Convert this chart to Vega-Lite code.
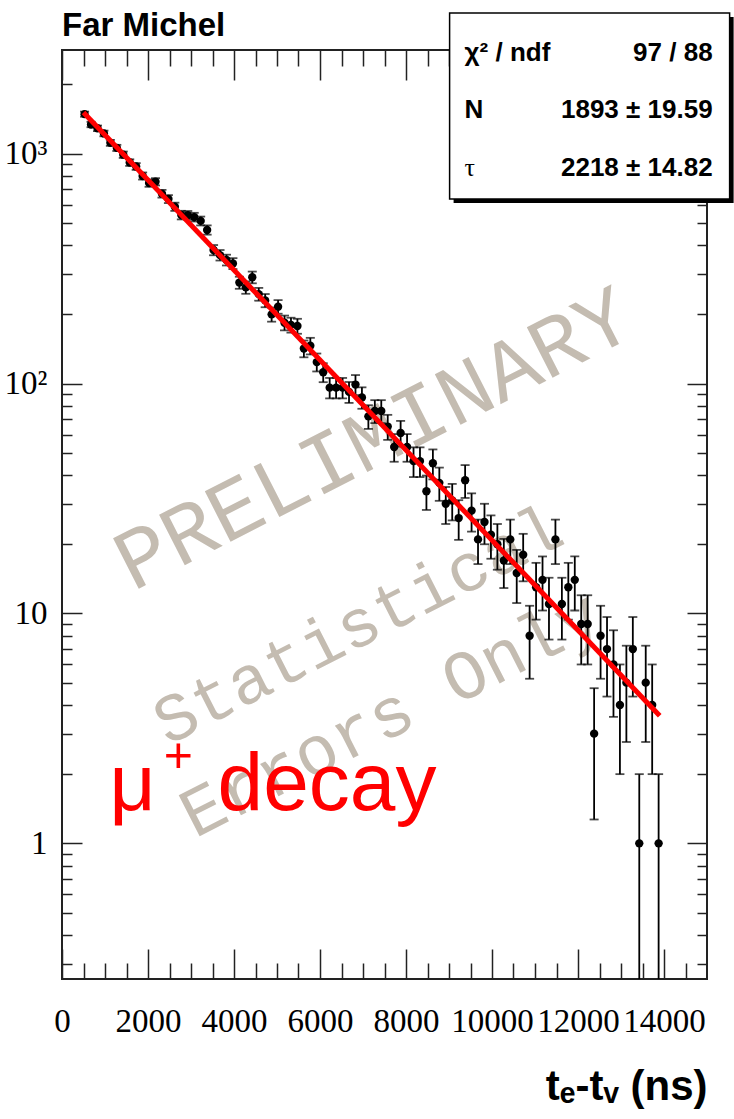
{
  "$schema": "https://vega.github.io/schema/vega-lite/v6.json",
  "width": 645,
  "height": 929,
  "autosize": {"type": "none"},
  "padding": {"left": 62, "top": 50, "right": 27, "bottom": 140},
  "background": "white",
  "config": {
    "view": {"stroke": "#222222", "strokeWidth": 2},
    "axis": {"grid": false, "domain": false}
  },
  "datasets": {
    "bins": [
      {"t":525,"n":1486,"lo":1447.5,"hi":1524.5},
      {"t":675,"n":1340,"lo":1303.4,"hi":1376.6},
      {"t":825,"n":1290,"lo":1254.1,"hi":1325.9},
      {"t":975,"n":1225,"lo":1190,"hi":1260},
      {"t":1125,"n":1115,"lo":1081.6,"hi":1148.4},
      {"t":1275,"n":1060,"lo":1027.4,"hi":1092.6},
      {"t":1425,"n":990,"lo":958.5,"hi":1021.5},
      {"t":1575,"n":915,"lo":884.8,"hi":945.2},
      {"t":1725,"n":880,"lo":850.3,"hi":909.7},
      {"t":1875,"n":800,"lo":771.7,"hi":828.3},
      {"t":2025,"n":745,"lo":717.7,"hi":772.3},
      {"t":2175,"n":755,"lo":727.5,"hi":782.5},
      {"t":2325,"n":670,"lo":644.1,"hi":695.9},
      {"t":2475,"n":635,"lo":609.8,"hi":660.2},
      {"t":2625,"n":588,"lo":563.8,"hi":612.2},
      {"t":2775,"n":541,"lo":517.7,"hi":564.3},
      {"t":2925,"n":540,"lo":516.8,"hi":563.2},
      {"t":3075,"n":530,"lo":507,"hi":553},
      {"t":3225,"n":510,"lo":487.4,"hi":532.6},
      {"t":3375,"n":466,"lo":444.4,"hi":487.6},
      {"t":3525,"n":381,"lo":361.5,"hi":400.5},
      {"t":3675,"n":362,"lo":343,"hi":381},
      {"t":3825,"n":345,"lo":326.4,"hi":363.6},
      {"t":3975,"n":333,"lo":314.8,"hi":351.2},
      {"t":4125,"n":275,"lo":258.4,"hi":291.6},
      {"t":4275,"n":262,"lo":245.8,"hi":278.2},
      {"t":4425,"n":290,"lo":273,"hi":307},
      {"t":4575,"n":245,"lo":229.3,"hi":260.7},
      {"t":4725,"n":230,"lo":214.8,"hi":245.2},
      {"t":4875,"n":200,"lo":185.9,"hi":214.1},
      {"t":5025,"n":216,"lo":201.3,"hi":230.7},
      {"t":5175,"n":184,"lo":170.4,"hi":197.6},
      {"t":5325,"n":180,"lo":166.6,"hi":193.4},
      {"t":5475,"n":178,"lo":164.7,"hi":191.3},
      {"t":5625,"n":142,"lo":130.1,"hi":153.9},
      {"t":5775,"n":146,"lo":133.9,"hi":158.1},
      {"t":5925,"n":124,"lo":112.9,"hi":135.1},
      {"t":6075,"n":112,"lo":101.4,"hi":122.6},
      {"t":6225,"n":96,"lo":86.2,"hi":105.8},
      {"t":6375,"n":96,"lo":86.2,"hi":105.8},
      {"t":6525,"n":96,"lo":86.2,"hi":105.8},
      {"t":6675,"n":92,"lo":82.4,"hi":101.6},
      {"t":6825,"n":99,"lo":89.1,"hi":108.9},
      {"t":6975,"n":87,"lo":77.7,"hi":96.3},
      {"t":7125,"n":72,"lo":63.5,"hi":80.5},
      {"t":7275,"n":76,"lo":67.3,"hi":84.7},
      {"t":7425,"n":76,"lo":67.3,"hi":84.7},
      {"t":7575,"n":65,"lo":56.9,"hi":73.1},
      {"t":7725,"n":53,"lo":45.7,"hi":60.3},
      {"t":7875,"n":61,"lo":53.2,"hi":68.8},
      {"t":8025,"n":53,"lo":45.7,"hi":60.3},
      {"t":8175,"n":46,"lo":39.2,"hi":52.8},
      {"t":8325,"n":46,"lo":39.2,"hi":52.8},
      {"t":8475,"n":34,"lo":28.2,"hi":39.8},
      {"t":8625,"n":45,"lo":38.3,"hi":51.7},
      {"t":8775,"n":37,"lo":30.9,"hi":43.1},
      {"t":8925,"n":30,"lo":24.5,"hi":35.5},
      {"t":9075,"n":31,"lo":25.4,"hi":36.6},
      {"t":9225,"n":26,"lo":20.9,"hi":31.1},
      {"t":9375,"n":38,"lo":31.8,"hi":44.2},
      {"t":9525,"n":28,"lo":22.7,"hi":33.3},
      {"t":9675,"n":21,"lo":16.4,"hi":25.6},
      {"t":9825,"n":25,"lo":20,"hi":30},
      {"t":9975,"n":22,"lo":17.3,"hi":26.7},
      {"t":10125,"n":20,"lo":15.5,"hi":24.5},
      {"t":10275,"n":17,"lo":12.9,"hi":21.1},
      {"t":10425,"n":21,"lo":16.4,"hi":25.6},
      {"t":10575,"n":15,"lo":11.1,"hi":18.9},
      {"t":10725,"n":18,"lo":13.8,"hi":22.2},
      {"t":10875,"n":8,"lo":5.2,"hi":10.8},
      {"t":11025,"n":13,"lo":9.4,"hi":16.6},
      {"t":11175,"n":14,"lo":10.3,"hi":17.7},
      {"t":11325,"n":11,"lo":7.7,"hi":14.3},
      {"t":11475,"n":21,"lo":16.4,"hi":25.6},
      {"t":11625,"n":11,"lo":7.7,"hi":14.3},
      {"t":11775,"n":13,"lo":9.4,"hi":16.6},
      {"t":11925,"n":14,"lo":10.3,"hi":17.7},
      {"t":12075,"n":9,"lo":6,"hi":12},
      {"t":12225,"n":9,"lo":6,"hi":12},
      {"t":12375,"n":3,"lo":1.27,"hi":4.73},
      {"t":12525,"n":8,"lo":5.2,"hi":10.8},
      {"t":12675,"n":7,"lo":4.35,"hi":9.65},
      {"t":12825,"n":6,"lo":3.55,"hi":8.45},
      {"t":12975,"n":4,"lo":2,"hi":6},
      {"t":13125,"n":5,"lo":2.76,"hi":7.24},
      {"t":13275,"n":7,"lo":4.35,"hi":9.65},
      {"t":13425,"n":1,"lo":0.1,"hi":2},
      {"t":13575,"n":5,"lo":2.76,"hi":7.24},
      {"t":13725,"n":4,"lo":2,"hi":6},
      {"t":13875,"n":1,"lo":0.1,"hi":2}
    ],
    "fit": [
      {"t":500,"f":1511},
      {"t":13900,"f":3.59}
    ]
  },
  "resolve": {"axis": {"x": "independent", "y": "independent"}},
  "layer": [
    {
      "data": {"values": [{}]},
      "mark": {"type": "text", "font": "Liberation Mono", "fontSize": 86, "color": "#c4bcb1", "angle": -27, "align": "center", "baseline": "middle"},
      "encoding": {
        "x": {"datum": 7250, "type": "quantitative", "scale": {"type": "linear", "domain": [0, 15000], "nice": false, "zero": false}, "axis": null},
        "y": {"datum": 57, "type": "quantitative", "scale": {"type": "log", "domain": [0.257, 2825], "nice": false}, "axis": null},
        "text": {"value": "PRELIMINARY"}
      }
    },
    {
      "data": {"values": [{}]},
      "mark": {"type": "text", "font": "Liberation Mono", "fontSize": 68, "color": "#c4bcb1", "angle": -27, "align": "center", "baseline": "middle"},
      "encoding": {
        "x": {"datum": 6900, "type": "quantitative", "axis": null},
        "y": {"datum": 8.8, "type": "quantitative", "axis": null},
        "text": {"value": "Statistical"}
      }
    },
    {
      "data": {"values": [{}]},
      "mark": {"type": "text", "font": "Liberation Mono", "fontSize": 70, "color": "#c4bcb1", "angle": -27, "align": "center", "baseline": "middle"},
      "encoding": {
        "x": {"datum": 7650, "type": "quantitative", "axis": null},
        "y": {"datum": 3.61, "type": "quantitative", "axis": null},
        "text": {"value": "Errors Only"}
      }
    },
    {
      "data": {"values": [{}]},
      "mark": {"type": "text", "font": "Liberation Sans", "fontSize": 80, "color": "#ff0000", "align": "left", "baseline": "alphabetic"},
      "encoding": {
        "x": {"datum": 1107, "type": "quantitative", "axis": null},
        "y": {"datum": 1.396, "type": "quantitative", "axis": null},
        "text": {"value": "μ"}
      }
    },
    {
      "data": {"values": [{}]},
      "mark": {"type": "text", "font": "Liberation Sans", "fontSize": 50, "color": "#ff0000", "align": "left", "baseline": "middle"},
      "encoding": {
        "x": {"datum": 2367, "type": "quantitative", "axis": null},
        "y": {"datum": 2.374, "type": "quantitative", "axis": null},
        "text": {"value": "+"}
      }
    },
    {
      "data": {"values": [{}]},
      "mark": {"type": "text", "font": "Liberation Sans", "fontSize": 82, "color": "#ff0000", "align": "left", "baseline": "alphabetic"},
      "encoding": {
        "x": {"datum": 3619, "type": "quantitative", "axis": null},
        "y": {"datum": 1.396, "type": "quantitative", "axis": null},
        "text": {"value": "decay"}
      }
    },
    {
      "data": {"name": "bins"},
      "mark": {"type": "rule", "color": "black", "strokeWidth": 1.8, "clip": true},
      "encoding": {
        "x": {"field": "t", "type": "quantitative",
          "axis": {"orient": "bottom", "values": [0,2000,4000,6000,8000,10000,12000,14000], "format": "d", "ticks": false, "labelFont": "Liberation Serif", "labelFontSize": 33, "labelColor": "black", "labelPadding": 26, "labelFlush": false, "labelOverlap": false, "labelAngle": 0,
            "title": "tₑ-tᵥ (ns)", "titleFont": "Liberation Sans", "titleFontWeight": "bold", "titleFontSize": 42, "titleColor": "black", "titleAnchor": "end", "titleAlign": "right", "titlePadding": 28}},
        "y": {"field": "lo", "type": "quantitative",
          "axis": {"orient": "left", "values": [1,10,100,1000], "ticks": false, "labelFont": "Liberation Serif", "labelFontSize": 33, "labelColor": "black", "labelPadding": 15, "labelFlush": false, "labelOverlap": false, "title": null,
            "labelExpr": "datum.value >= 1000 ? '10³' : datum.value >= 100 ? '10²' : datum.value >= 10 ? '10' : '1'"}},
        "y2": {"field": "hi"}
      }
    },
    {
      "data": {"name": "bins"},
      "mark": {"type": "tick", "orient": "horizontal", "color": "black", "size": 9, "thickness": 1.8, "clip": true},
      "encoding": {
        "x": {"field": "t", "type": "quantitative",
          "axis": {"orient": "bottom", "values": [0,2000,4000,6000,8000,10000,12000,14000], "labels": false, "ticks": true, "tickSize": -30, "tickWidth": 1.5, "tickColor": "#222222", "title": null}},
        "y": {"field": "hi", "type": "quantitative",
          "axis": {"orient": "left", "values": [1,10,100,1000], "labels": false, "ticks": true, "tickSize": -20, "tickWidth": 1.5, "tickColor": "#222222", "title": null}}
      }
    },
    {
      "data": {"name": "bins"},
      "mark": {"type": "tick", "orient": "horizontal", "color": "black", "size": 9, "thickness": 1.8, "clip": true},
      "encoding": {
        "x": {"field": "t", "type": "quantitative",
          "axis": {"orient": "bottom", "values": [500,1000,1500,2500,3000,3500,4500,5000,5500,6500,7000,7500,8500,9000,9500,10500,11000,11500,12500,13000,13500,14500], "labels": false, "ticks": true, "tickSize": -16, "tickWidth": 1.5, "tickColor": "#222222", "title": null}},
        "y": {"field": "lo", "type": "quantitative",
          "axis": {"orient": "left", "values": [0.3,0.4,0.5,0.6,0.7,0.8,0.9,2,3,4,5,6,7,8,9,20,30,40,50,60,70,80,90,200,300,400,500,600,700,800,900,2000], "labels": false, "ticks": true, "tickSize": -10, "tickWidth": 1.5, "tickColor": "#222222", "title": null}}
      }
    },
    {
      "data": {"name": "bins"},
      "mark": {"type": "point", "shape": "circle", "filled": true, "color": "black", "opacity": 1, "size": 70, "clip": true},
      "encoding": {
        "x": {"field": "t", "type": "quantitative",
          "axis": {"orient": "top", "values": [0,2000,4000,6000,8000,10000,12000,14000], "labels": false, "ticks": true, "tickSize": -30, "tickWidth": 1.5, "tickColor": "#222222", "title": null}},
        "y": {"field": "n", "type": "quantitative",
          "axis": {"orient": "right", "values": [1,10,100,1000], "labels": false, "ticks": true, "tickSize": -20, "tickWidth": 1.5, "tickColor": "#222222", "title": null}}
      }
    },
    {
      "data": {"name": "fit"},
      "mark": {"type": "line", "color": "#ff0000", "strokeWidth": 5, "clip": true},
      "encoding": {
        "x": {"field": "t", "type": "quantitative",
          "axis": {"orient": "top", "values": [500,1000,1500,2500,3000,3500,4500,5000,5500,6500,7000,7500,8500,9000,9500,10500,11000,11500,12500,13000,13500,14500], "labels": false, "ticks": true, "tickSize": -16, "tickWidth": 1.5, "tickColor": "#222222", "title": null}},
        "y": {"field": "f", "type": "quantitative",
          "axis": {"orient": "right", "values": [0.3,0.4,0.5,0.6,0.7,0.8,0.9,2,3,4,5,6,7,8,9,20,30,40,50,60,70,80,90,200,300,400,500,600,700,800,900,2000], "labels": false, "ticks": true, "tickSize": -10, "tickWidth": 1.5, "tickColor": "#222222", "title": null}}
      }
    },
    {
      "data": {"values": [{}]},
      "mark": {"type": "text", "font": "Liberation Sans", "fontWeight": "bold", "fontSize": 33, "color": "black", "align": "left", "baseline": "alphabetic"},
      "encoding": {
        "x": {"datum": 0, "type": "quantitative", "axis": null},
        "y": {"datum": 3248, "type": "quantitative", "axis": null},
        "text": {"value": "Far Michel"}
      }
    },
    {
      "data": {"values": [{}]},
      "mark": {"type": "rect", "color": "black", "opacity": 1},
      "encoding": {
        "x": {"datum": 9107, "type": "quantitative", "axis": null},
        "x2": {"datum": 15619},
        "y": {"datum": 3927, "type": "quantitative", "axis": null},
        "y2": {"datum": 609.7}
      }
    },
    {
      "data": {"values": [{}]},
      "mark": {"type": "rect", "fill": "white", "stroke": "black", "strokeWidth": 1.5, "opacity": 1, "fillOpacity": 1},
      "encoding": {
        "x": {"datum": 9014, "type": "quantitative", "axis": null},
        "x2": {"datum": 15526},
        "y": {"datum": 4089, "type": "quantitative", "axis": null},
        "y2": {"datum": 634.7}
      }
    },
    {
      "data": {"values": [{}]},
      "mark": {"type": "text", "font": "Liberation Sans", "fontWeight": "bold", "fontSize": 26, "color": "black", "align": "left", "baseline": "middle"},
      "encoding": {
        "x": {"datum": 9363, "type": "quantitative", "axis": null},
        "y": {"datum": 2740, "type": "quantitative", "axis": null},
        "text": {"value": "χ² / ndf"}
      }
    },
    {
      "data": {"values": [{}]},
      "mark": {"type": "text", "font": "Liberation Sans", "fontWeight": "bold", "fontSize": 26, "color": "black", "align": "left", "baseline": "middle"},
      "encoding": {
        "x": {"datum": 9363, "type": "quantitative", "axis": null},
        "y": {"datum": 1547, "type": "quantitative", "axis": null},
        "text": {"value": "N"}
      }
    },
    {
      "data": {"values": [{}]},
      "mark": {"type": "text", "font": "Liberation Serif", "fontSize": 26, "color": "black", "align": "left", "baseline": "middle"},
      "encoding": {
        "x": {"datum": 9363, "type": "quantitative", "axis": null},
        "y": {"datum": 865.8, "type": "quantitative", "axis": null},
        "text": {"value": "τ"}
      }
    },
    {
      "data": {"values": [{}]},
      "mark": {"type": "text", "font": "Liberation Sans", "fontWeight": "bold", "fontSize": 26, "color": "black", "align": "right", "baseline": "middle"},
      "encoding": {
        "x": {"datum": 15130, "type": "quantitative", "axis": null},
        "y": {"datum": 2740, "type": "quantitative", "axis": null},
        "text": {"value": "97 / 88"}
      }
    },
    {
      "data": {"values": [{}]},
      "mark": {"type": "text", "font": "Liberation Sans", "fontWeight": "bold", "fontSize": 26, "color": "black", "align": "right", "baseline": "middle"},
      "encoding": {
        "x": {"datum": 15130, "type": "quantitative", "axis": null},
        "y": {"datum": 1547, "type": "quantitative", "axis": null},
        "text": {"value": "1893 ± 19.59"}
      }
    },
    {
      "data": {"values": [{}]},
      "mark": {"type": "text", "font": "Liberation Sans", "fontWeight": "bold", "fontSize": 26, "color": "black", "align": "right", "baseline": "middle"},
      "encoding": {
        "x": {"datum": 15130, "type": "quantitative", "axis": null},
        "y": {"datum": 865.8, "type": "quantitative", "axis": null},
        "text": {"value": "2218 ± 14.82"}
      }
    }
  ]
}
